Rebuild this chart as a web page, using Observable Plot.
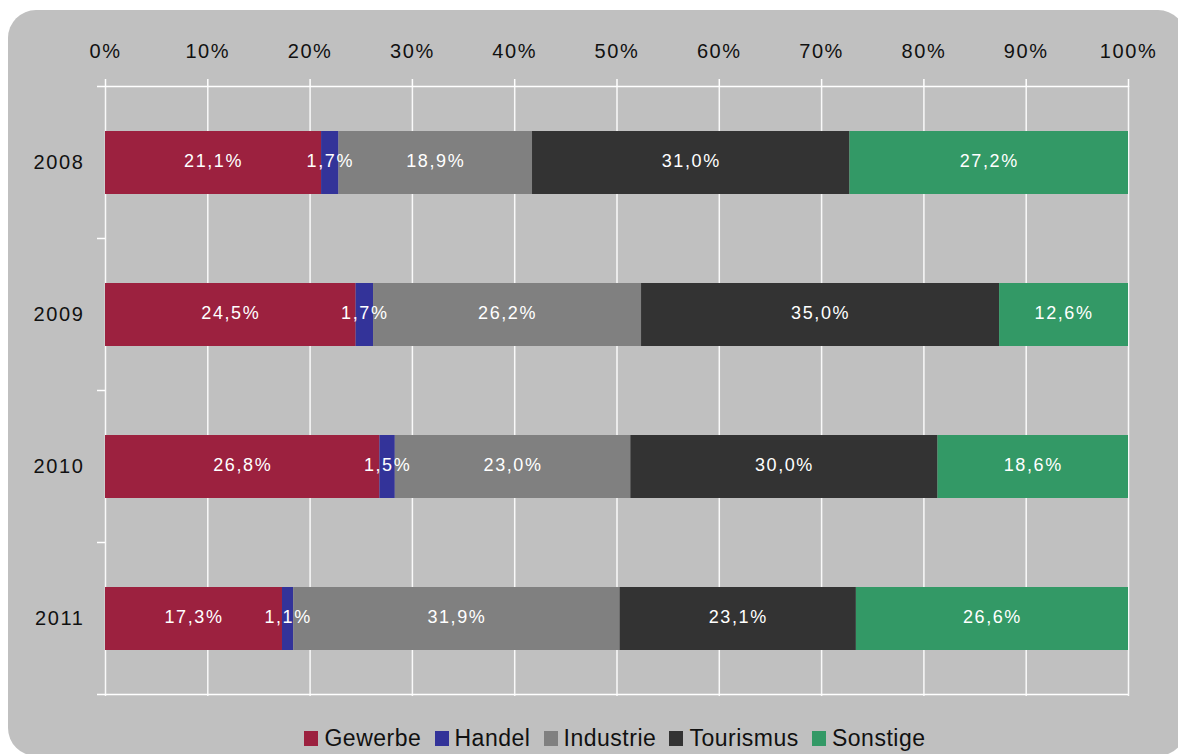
<!DOCTYPE html>
<html>
<head>
<meta charset="utf-8">
<script src="https://cdn.jsdelivr.net/npm/d3@7"></script>
<script src="https://cdn.jsdelivr.net/npm/@observablehq/plot@0.6"></script>
<style>
  html, body { margin: 0; padding: 0; background: #ffffff; width: 1178px; height: 754px; overflow: hidden; }
  #panel { position: absolute; left: 8px; top: 10px; width: 1178px; height: 746px; background: #c0c0c0; border-radius: 28px; }
  #chart { position: absolute; left: 0; top: 0; }
  #legend { position: absolute; left: 0; top: 725px; width: 1230px; display: flex; justify-content: center; align-items: center;
    font-family: "Liberation Sans", Arial, sans-serif; font-size: 23px; letter-spacing: 0.5px; color: #111; }
  .item { display: flex; align-items: center; margin: 0 6.6px; }
  .sw { width: 14px; height: 15px; margin-right: 6px; display: inline-block; }
</style>
</head>
<body>
<div id="panel"></div>
<div id="chart"></div>
<div id="legend"></div>
<script>
const years = ["2008", "2009", "2010", "2011"];
const categories = ["Gewerbe", "Handel", "Industrie", "Tourismus", "Sonstige"];
const colors = ["#9c213f", "#333399", "#808080", "#333333", "#339966"];
const gewerbe = [21.1, 24.5, 26.8, 17.3];
const handel = [1.7, 1.7, 1.5, 1.1];
const industrie = [18.9, 26.2, 23.0, 31.9];
const tourismus = [31.0, 35.0, 30.0, 23.1];
const sonstige = [27.2, 12.6, 18.6, 26.6];
const xTicks = [0, 10, 20, 30, 40, 50, 60, 70, 80, 90, 100];

const series = [gewerbe, handel, industrie, tourismus, sonstige];
const data = years.flatMap((yr, i) => categories.map((c, j) => ({ year: yr, cat: c, value: series[j][i] })));
const fmt = v => v.toFixed(1).replace(".", ",") + "%";

const bandLines = (index, scales, values, dimensions) => {
  const y = scales.y;
  const g = d3.create("svg:g").attr("stroke", "white").attr("stroke-width", 1.5);
  const bw = y.bandwidth ? y.bandwidth() : 0;
  const step = y.step ? y.step() : (dimensions.height - dimensions.marginTop - dimensions.marginBottom) / years.length;
  const x0 = dimensions.marginLeft;
  const x1 = dimensions.width - dimensions.marginRight;
  const bounds = years.map(yr => y(yr) + bw / 2 - step / 2);
  bounds.push(y(years[years.length - 1]) + bw / 2 + step / 2);
  bounds.forEach((b, i) => {
    const full = i === 0 || i === bounds.length - 1;
    g.append("line").attr("x1", x0 - 8).attr("x2", full ? x1 : x0).attr("y1", b).attr("y2", b);
  });
  return g.node();
};

const chart = Plot.plot({
  width: 1178,
  height: 712,
  marginLeft: 105,
  marginRight: 50,
  marginTop: 86,
  marginBottom: 16,
  style: { fontFamily: "'Liberation Sans', Arial, sans-serif", fontSize: "20px", letterSpacing: "1.6px", background: "transparent", color: "#111" },
  x: { domain: [0, 1], axis: null },
  y: { domain: years, paddingInner: 0.585, paddingOuter: 0.2925, axis: null },
  color: { domain: categories, range: colors },
  marks: [
    Plot.gridX(xTicks.map(t => t / 100), { stroke: "white", strokeOpacity: 0.9, strokeWidth: 1.5 }),
    Plot.axisX(xTicks.map(t => t / 100), { anchor: "top", tickSize: 8, tickPadding: 21, stroke: "white", strokeWidth: 1.5, tickFormat: d => Math.round(d * 100) + "%", fill: "#111", label: null }),
    Plot.axisY({ tickSize: 0, tickPadding: 21, fill: "#111", label: null }),
    bandLines,
    Plot.barX(data, Plot.stackX({ x: "value", y: "year", fill: "cat", order: categories, offset: "normalize" })),
    Plot.text(data, Plot.stackX({ x: "value", y: "year", z: "cat", order: categories, offset: "normalize", text: d => fmt(d.value), fill: "white", fontSize: 18, letterSpacing: "1.3px", dy: -2 }))
  ]
});
document.getElementById("chart").appendChild(chart);

const legend = document.getElementById("legend");
categories.forEach((c, i) => {
  const it = document.createElement("span");
  it.className = "item";
  const sw = document.createElement("span");
  sw.className = "sw";
  sw.style.background = colors[i];
  it.appendChild(sw);
  it.appendChild(document.createTextNode(c));
  legend.appendChild(it);
});
</script>
</body>
</html>
